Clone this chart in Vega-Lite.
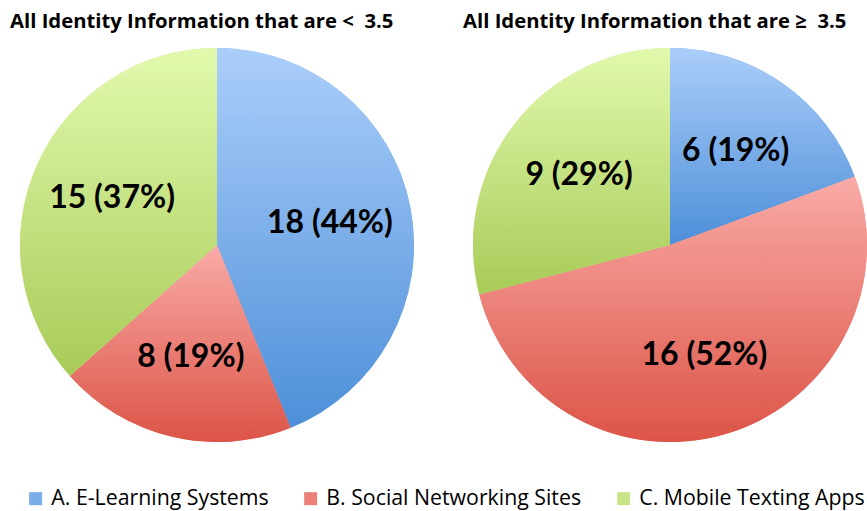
{
  "$schema": "https://vega.github.io/schema/vega-lite/v6.json",
  "background": "white",
  "padding": {"left": 10, "top": 11, "right": 0, "bottom": 30},
  "data": {"values": [
    {"group": "lt", "category": "A. E-Learning Systems", "value": 18, "label": "18 (44%)"},
    {"group": "lt", "category": "B. Social Networking Sites", "value": 8, "label": "8 (19%)"},
    {"group": "lt", "category": "C. Mobile Texting Apps", "value": 15, "label": "15 (37%)"},
    {"group": "ge", "category": "A. E-Learning Systems", "value": 6, "label": "6 (19%)"},
    {"group": "ge", "category": "B. Social Networking Sites", "value": 16, "label": "16 (52%)"},
    {"group": "ge", "category": "C. Mobile Texting Apps", "value": 9, "label": "9 (29%)"}
  ]},
  "spacing": 49,
  "hconcat": [
    {
      "width": 394, "height": 394,
      "title": {"text": "All Identity Information that are <\u00a0 3.5"},
      "transform": [{"filter": "datum.group === 'lt'"}],
      "encoding": {
        "theta": {"field": "value", "type": "quantitative", "stack": true},
        "order": {"field": "category", "type": "ordinal", "sort": "ascending"}
      },
      "layer": [
        {"mark": {"type": "arc", "stroke": null},
         "encoding": {"color": {"field": "category", "type": "nominal", "title": null,
           "scale": {"domain": ["A. E-Learning Systems", "B. Social Networking Sites", "C. Mobile Texting Apps"], "range": ["#7aaee8", "#ec8079", "#c8e488"]},
           "legend": {"orient": "none", "legendX": 5, "legendY": 440}}}},
        {"mark": {"type": "arc", "stroke": null},
         "encoding": {"detail": {"field": "category", "type": "nominal"},
           "fill": {"condition": [
             {"test": "datum.category === 'A. E-Learning Systems'", "value": {"gradient": "linear", "x1": 0, "y1": 0, "x2": 0, "y2": 1, "stops": [{"offset": 0, "color": "#abcefa"}, {"offset": 1, "color": "#4d8fd9"}]}},
             {"test": "datum.category === 'B. Social Networking Sites'", "value": {"gradient": "linear", "x1": 0, "y1": 0, "x2": 0, "y2": 1, "stops": [{"offset": 0, "color": "#f9aba7"}, {"offset": 1, "color": "#dc5447"}]}}
           ], "value": {"gradient": "linear", "x1": 0, "y1": 0, "x2": 0, "y2": 1, "stops": [{"offset": 0, "color": "#e2f9ad"}, {"offset": 1, "color": "#a8cb58"}]}}}},
        {"mark": {"type": "text", "radius": 115, "font": "Lato", "fontWeight": "bold", "fontSize": 32, "color": "black"},
         "encoding": {"detail": {"field": "category", "type": "nominal"}, "text": {"field": "label"}}}
      ]
    },
    {
      "width": 394, "height": 394,
      "title": {"text": "All Identity Information that are \u2265\u00a0 3.5"},
      "transform": [{"filter": "datum.group === 'ge'"}],
      "encoding": {
        "theta": {"field": "value", "type": "quantitative", "stack": true},
        "order": {"field": "category", "type": "ordinal", "sort": "ascending"}
      },
      "layer": [
        {"mark": {"type": "arc", "stroke": null},
         "encoding": {"color": {"field": "category", "type": "nominal", "title": null,
           "scale": {"domain": ["A. E-Learning Systems", "B. Social Networking Sites", "C. Mobile Texting Apps"], "range": ["#7aaee8", "#ec8079", "#c8e488"]},
           "legend": {"orient": "none", "legendX": 5, "legendY": 440}}}},
        {"mark": {"type": "arc", "stroke": null},
         "encoding": {"detail": {"field": "category", "type": "nominal"},
           "fill": {"condition": [
             {"test": "datum.category === 'A. E-Learning Systems'", "value": {"gradient": "linear", "x1": 0, "y1": 0, "x2": 0, "y2": 1, "stops": [{"offset": 0, "color": "#abcefa"}, {"offset": 1, "color": "#4d8fd9"}]}},
             {"test": "datum.category === 'B. Social Networking Sites'", "value": {"gradient": "linear", "x1": 0, "y1": 0, "x2": 0, "y2": 1, "stops": [{"offset": 0, "color": "#f9aba7"}, {"offset": 1, "color": "#dc5447"}]}}
           ], "value": {"gradient": "linear", "x1": 0, "y1": 0, "x2": 0, "y2": 1, "stops": [{"offset": 0, "color": "#e2f9ad"}, {"offset": 1, "color": "#a8cb58"}]}}}},
        {"mark": {"type": "text", "radius": 115, "font": "Lato", "fontWeight": "bold", "fontSize": 32, "color": "black"},
         "encoding": {"detail": {"field": "category", "type": "nominal"}, "text": {"field": "label"}}}
      ]
    }
  ],
  "resolve": {"scale": {"color": "shared", "theta": "independent"}},
  "config": {
    "view": {"stroke": null},
    "title": {"anchor": "start", "dx": -10, "font": "Open Sans", "fontWeight": "bold", "fontSize": 20.3, "color": "black", "offset": 16},
    "legend": {
      "direction": "horizontal",
      "symbolType": "square", "symbolSize": 169, "symbolStrokeWidth": 0,
      "labelFont": "Open Sans", "labelFontSize": 21.3, "labelColor": "black",
      "columnPadding": 31, "labelOffset": 5, "labelLimit": 400
    }
  }
}
